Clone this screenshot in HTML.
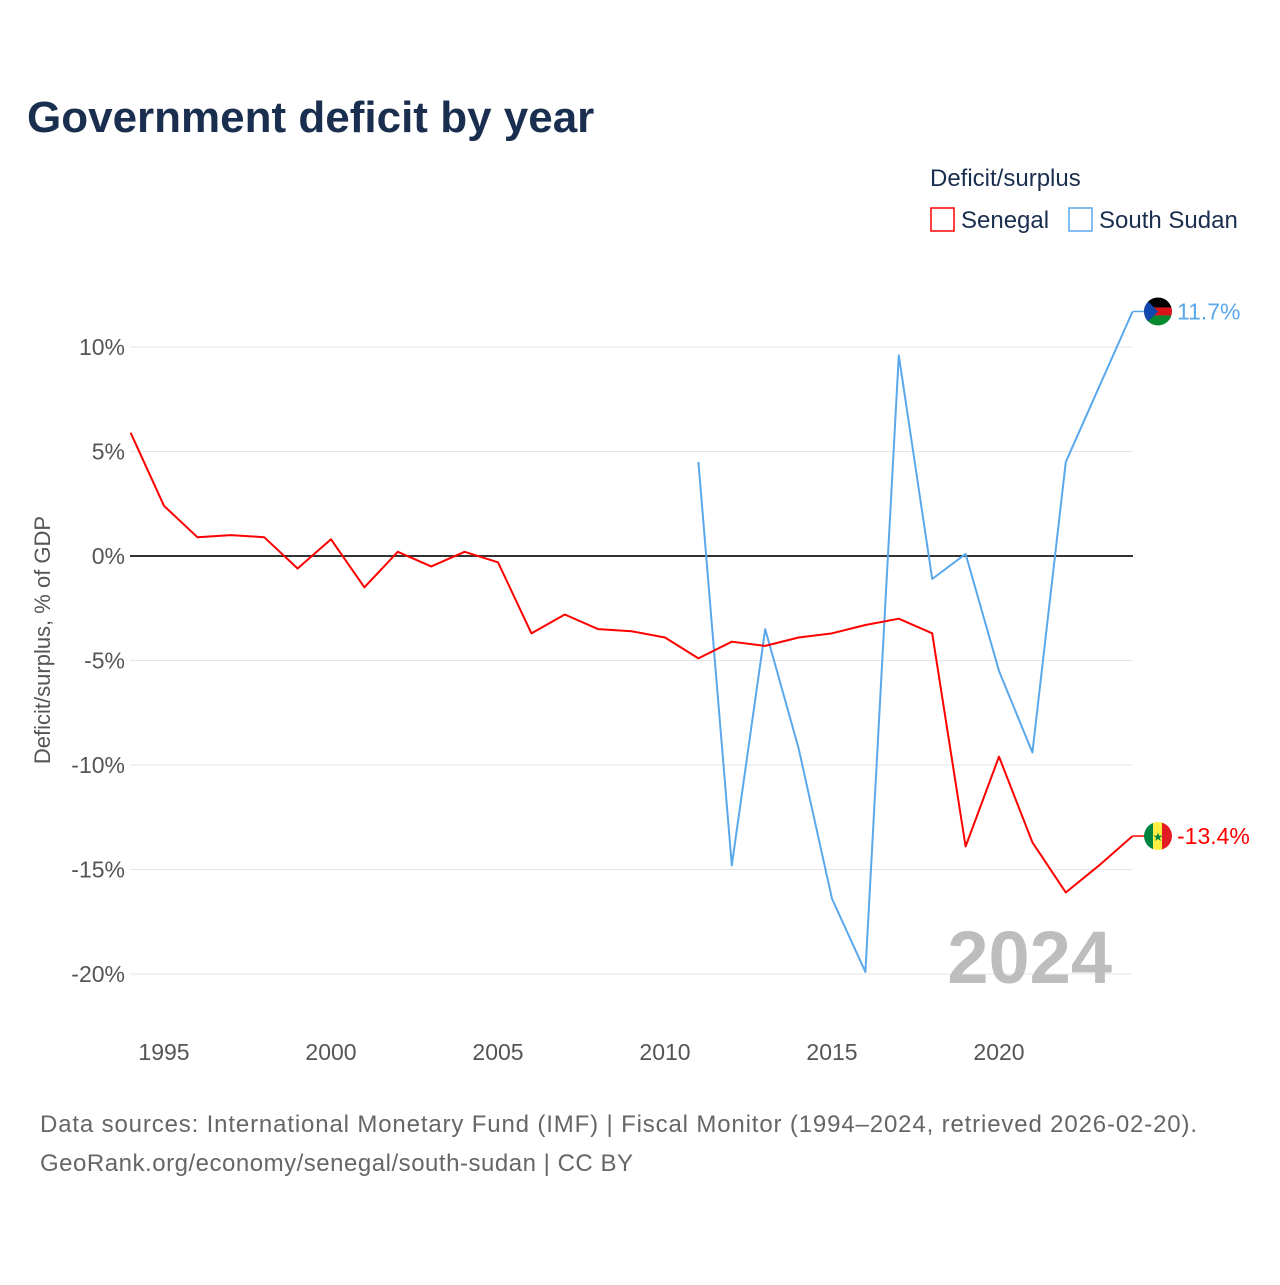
<!DOCTYPE html>
<html><head><meta charset="utf-8"><style>
body{margin:0;background:#fff;font-family:"Liberation Sans",sans-serif;}
</style></head><body>
<svg width="1280" height="1280" viewBox="0 0 1280 1280" xmlns="http://www.w3.org/2000/svg" font-family="Liberation Sans, sans-serif">
<text x="27" y="132" font-size="44" font-weight="bold" fill="#1a2e4f">Government deficit by year</text>
<text x="930" y="186" font-size="24" fill="#1a2e4f">Deficit/surplus</text>
<g><rect x="931" y="208" width="23" height="23" fill="none" stroke="#f00" stroke-width="1.5"/><text x="961" y="228" font-size="24" fill="#1a2e4f">Senegal</text></g>
<g><rect x="1069" y="208" width="23" height="23" fill="none" stroke="#5aa8ec" stroke-width="1.5"/><text x="1099" y="228" font-size="24" fill="#1a2e4f">South Sudan</text></g>
<text transform="translate(50,640) rotate(-90)" text-anchor="middle" font-size="22" fill="#555">Deficit/surplus, % of GDP</text>
<g id="grid"></g><g id="ylab"></g><g id="xlab"></g>
<text x="1112" y="983" text-anchor="end" font-size="74" font-weight="bold" fill="#bdbdbd">2024</text>
<g id="series"></g>
<text x="40" y="1132" font-size="24" fill="#666" textLength="1157">Data sources: International Monetary Fund (IMF) | Fiscal Monitor (1994–2024, retrieved 2026-02-20).</text>
<text x="40" y="1171" font-size="24" fill="#666" textLength="593">GeoRank.org/economy/senegal/south-sudan | CC BY</text>
</svg>
<script>
const senegalYears=[1994,1995,1996,1997,1998,1999,2000,2001,2002,2003,2004,2005,2006,2007,2008,2009,2010,2011,2012,2013,2014,2015,2016,2017,2018,2019,2020,2021,2022,2023,2024];
const senegalValues=[5.9,2.4,0.9,1.0,0.9,-0.6,0.8,-1.5,0.2,-0.5,0.2,-0.3,-3.7,-2.8,-3.5,-3.6,-3.9,-4.9,-4.1,-4.3,-3.9,-3.7,-3.3,-3.0,-3.7,-13.9,-9.6,-13.7,-16.1,-14.8,-13.4];
const sudanYears=[2011,2012,2013,2014,2015,2016,2017,2018,2019,2020,2021,2022,2023,2024];
const sudanValues=[4.5,-14.8,-3.5,-9.2,-16.4,-19.9,9.6,-1.1,0.1,-5.5,-9.4,4.5,8.1,11.7];
const yTicks=[10,5,0,-5,-10,-15,-20];
const xTicks=[1995,2000,2005,2010,2015,2020];
const NS="http://www.w3.org/2000/svg";
const x=v=>130.6+(v-1994)*33.4, y=v=>556-v*20.9;
function mk(t,a,p){const e=document.createElementNS(NS,t);for(const k in a)e.setAttribute(k,a[k]);document.getElementById(p).appendChild(e);return e;}
yTicks.forEach(t=>{
 const l=mk('line',{x1:130,x2:1133,y1:y(t),y2:y(t),stroke:t===0?'#333':'#e6e6e6','stroke-width':t===0?2:1},'grid');
 
 
 const tx=mk('text',{x:125,y:y(t)+8,'text-anchor':'end','font-size':23,fill:'#555'},'ylab');tx.textContent=t+'%';
 
 
});
xTicks.forEach(t=>{
 const tx=mk('text',{x:x(t),y:1060,'text-anchor':'middle','font-size':23,fill:'#555'},'xlab');tx.textContent=t;
 
 
});
function line(ys,vs,c,name){
 const p=mk('polyline',{points:ys.map((yr,i)=>x(yr)+','+y(vs[i])).join(' '),fill:'none',stroke:c,'stroke-width':2,'stroke-linejoin':'round'},'series');
 
 
}
line(sudanYears,sudanValues,'#5aa8ec','south-sudan-line');
line(senegalYears,senegalValues,'#f00','senegal-line');
function end(vs,c,name,label,flag){
 const v=vs[vs.length-1],yy=y(v);
 mk('line',{x1:1133,x2:1145,y1:yy,y2:yy,stroke:c,'stroke-width':1.5},'series');
 const g=mk('g',{},'series');
 
 
 g.innerHTML=flag;
 const t=mk('text',{x:1177,y:yy+8,'font-size':23,fill:c},'series');t.textContent=label;
 
 
}
const ys=y(sudanValues[sudanValues.length-1]), yn=y(senegalValues[senegalValues.length-1]);
end(sudanValues,'#5aa8ec','south-sudan',sudanValues[sudanValues.length-1]+'%',
 `<clipPath id="c1"><circle cx="1158" cy="${ys}" r="14"/></clipPath><g clip-path="url(#c1)"><rect x="1144" y="${ys-14}" width="28" height="10" fill="#000"/><rect x="1144" y="${ys-4}" width="28" height="8" fill="#da121a"/><rect x="1144" y="${ys+4}" width="28" height="10" fill="#078930"/><polygon points="1144,${ys-14} 1158,${ys} 1144,${ys+14}" fill="#0f47af"/></g>`);
end(senegalValues,'#f00','senegal',senegalValues[senegalValues.length-1]+'%',
 `<clipPath id="c2"><circle cx="1158" cy="${yn}" r="14"/></clipPath><g clip-path="url(#c2)"><rect x="1144" y="${yn-14}" width="10" height="28" fill="#00853f"/><rect x="1153" y="${yn-14}" width="10" height="28" fill="#fdef42"/><rect x="1162" y="${yn-14}" width="10" height="28" fill="#e31b23"/><text x="1158" y="${yn+5}" text-anchor="middle" font-size="12" fill="#00853f">★</text></g>`);
</script>
</body></html>
